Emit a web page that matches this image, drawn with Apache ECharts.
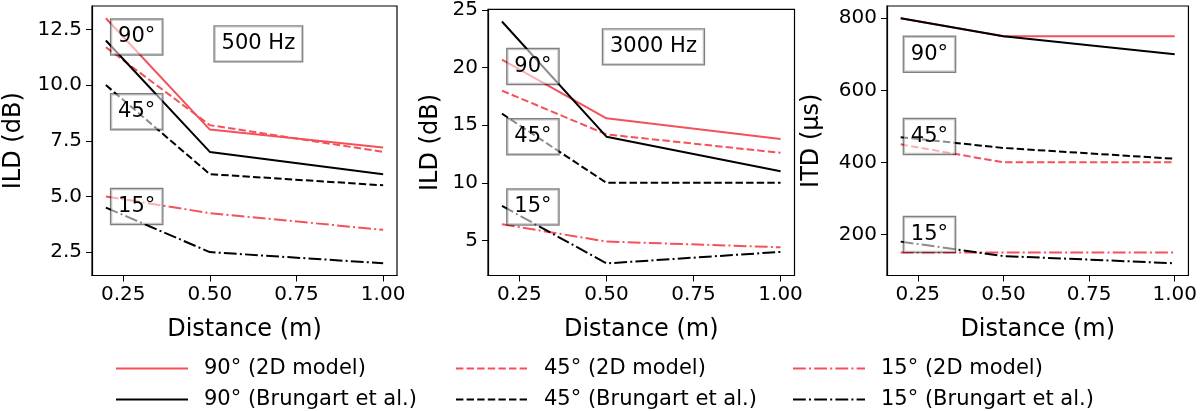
<!DOCTYPE html>
<html>
<head>
<meta charset="utf-8">
<script src="https://cdn.jsdelivr.net/npm/echarts@6/dist/echarts.min.js"></script>
<style>
  html, body { margin: 0; padding: 0; background: #fff; }
  #chart { width: 1200px; height: 411px; }
</style>
</head>
<body>
<div id="chart"></div>
<script>
// distances (m)
var distances = [0.2, 0.5, 1.0];
var seriesNames = [
  '90° (2D model)', '45° (2D model)', '15° (2D model)',
  '90° (Brungart et al.)', '45° (Brungart et al.)', '15° (Brungart et al.)'
];
// rows follow seriesNames
var ild500 = [
  [13.0, 8.0, 7.2],
  [11.7, 8.2, 7.0],
  [5.0, 4.25, 3.5],
  [12.0, 7.0, 6.0],
  [10.0, 6.0, 5.5],
  [4.5, 2.5, 2.0]
];
var ild3000 = [
  [20.7, 15.6, 13.8],
  [18.0, 14.2, 12.6],
  [6.4, 4.9, 4.4],
  [24.0, 14.0, 11.0],
  [16.0, 10.0, 10.0],
  [8.0, 3.0, 4.0]
];
var itd = [
  [800, 750, 750],
  [450, 400, 400],
  [150, 150, 150],
  [800, 750, 700],
  [470, 440, 410],
  [180, 140, 120]
];
var xTicks = [0.25, 0.5, 0.75, 1.0];
var yTicks500 = [2.5, 5, 7.5, 10, 12.5];
var yTicks3000 = [5, 10, 15, 20, 25];
var yTicksItd = [200, 400, 600, 800];

// text boxes inside the panels (data coordinates)
var angleLabels = ['90°', '45°', '15°'];
var anchors500 = [[0.289, 12.16], [0.289, 8.8], [0.289, 4.55], [0.64, 11.85]];
var anchors3000 = [[0.289, 20.1], [0.289, 14.0], [0.289, 7.9], [0.635, 21.8]];
var anchorsItd = [[0.284, 700], [0.284, 472], [0.284, 200]];

var red = '#f4515a';
var lineTypes = ['solid', [7.4, 3.2], [12.8, 3.2, 2, 3.2]];
var font = 'DejaVu Sans';

var panels = [
  { left: 92, width: 305, min: 1.45, max: 13.55, ticks: yTicks500, digits: 1,
    name: 'ILD (dB)', gap: 66, data: ild500, anchors: anchors500, title: '500 Hz' },
  { left: 488, width: 306.5, min: 1.95, max: 25.05, ticks: yTicks3000, digits: 0,
    name: 'ILD (dB)', gap: 45, data: ild3000, anchors: anchors3000, title: '3000 Hz' },
  { left: 887, width: 304.5, min: 86, max: 834, ticks: yTicksItd, digits: 0,
    name: 'ITD (µs)', gap: 63, data: itd, anchors: anchorsItd, title: null }
];

var grids = [], xAxes = [], yAxes = [], series = [];

panels.forEach(function (p, pi) {
  grids.push({
    left: p.left, top: 6, width: p.width, height: 269.5,
    show: true, borderColor: '#000', borderWidth: 1.2
  });
  xAxes.push({
    type: 'value', gridIndex: pi, min: 0.16, max: 1.04,
    name: 'Distance (m)', nameLocation: 'middle', nameGap: 42,
    nameTextStyle: { fontSize: 24, color: '#000', fontFamily: font },
    axisLine: { show: true, lineStyle: { color: '#000', width: 1.2 } },
    axisTick: { show: true, length: 6, customValues: xTicks, lineStyle: { color: '#000' } },
    axisLabel: {
      customValues: xTicks, fontSize: 20, color: '#000', fontFamily: font, margin: 9,
      formatter: function (v) { return v.toFixed(2); }
    },
    splitLine: { show: false }
  });
  yAxes.push({
    type: 'value', gridIndex: pi, min: p.min, max: p.max,
    name: p.name, nameLocation: 'middle', nameGap: p.gap,
    nameTextStyle: { fontSize: 24, color: '#000', fontFamily: font },
    axisLine: { show: true, lineStyle: { color: '#000', width: 1.2 } },
    axisTick: { show: true, length: 6, customValues: p.ticks, lineStyle: { color: '#000' } },
    axisLabel: {
      customValues: p.ticks, fontSize: 20, color: '#000', fontFamily: font, margin: 10,
      formatter: function (v) { return v.toFixed(p.digits); }
    },
    splitLine: { show: false }
  });

  p.data.forEach(function (row, si) {
    series.push({
      name: seriesNames[si],
      type: 'line',
      xAxisIndex: pi, yAxisIndex: pi,
      symbol: 'none',
      data: distances.map(function (d, k) { return [d, row[k]]; }),
      lineStyle: { color: si < 3 ? red : '#000', width: 2, type: lineTypes[si % 3] },
      itemStyle: { color: si < 3 ? red : '#000' },
      z: si < 3 ? 2 : 3,
      silent: true
    });
  });

  var labels = angleLabels.concat(p.title ? [p.title] : []);
  series.push({
    type: 'scatter',
    xAxisIndex: pi, yAxisIndex: pi,
    symbolSize: 0,
    itemStyle: { color: '#000', opacity: 1 },
    z: 10, silent: true,
    data: p.anchors.map(function (a, k) { return { value: a, name: labels[k] }; }),
    label: {
      show: true, position: 'inside',
      formatter: function (d) { return d.name; },
      fontSize: 21, color: '#000', opacity: 1, fontFamily: font,
      textBorderWidth: 0, textShadowBlur: 0,
      backgroundColor: 'rgba(255,255,255,0.55)',
      borderColor: 'rgba(0,0,0,0.5)', borderWidth: 1.2,
      padding: [6, 7, 8, 7]
    }
  });
});

var legendLeft = [115, 455, 792];
var legends = seriesNames.map(function (n, i) {
  return {
    data: [n],
    left: legendLeft[i % 3],
    top: i < 3 ? 358 : 389,
    padding: 0,
    itemWidth: 72, itemHeight: 20,
    selectedMode: false,
    itemStyle: { opacity: 0 },
    textStyle: { fontSize: 21, color: '#000', fontFamily: font, padding: [0, 0, 0, 11] }
  };
});

var option = {
  animation: false,
  backgroundColor: '#fff',
  textStyle: { fontFamily: font },
  grid: grids,
  xAxis: xAxes,
  yAxis: yAxes,
  legend: legends,
  series: series
};

var chart = echarts.init(document.getElementById('chart'));
chart.setOption(option);
</script>
</body>
</html>
